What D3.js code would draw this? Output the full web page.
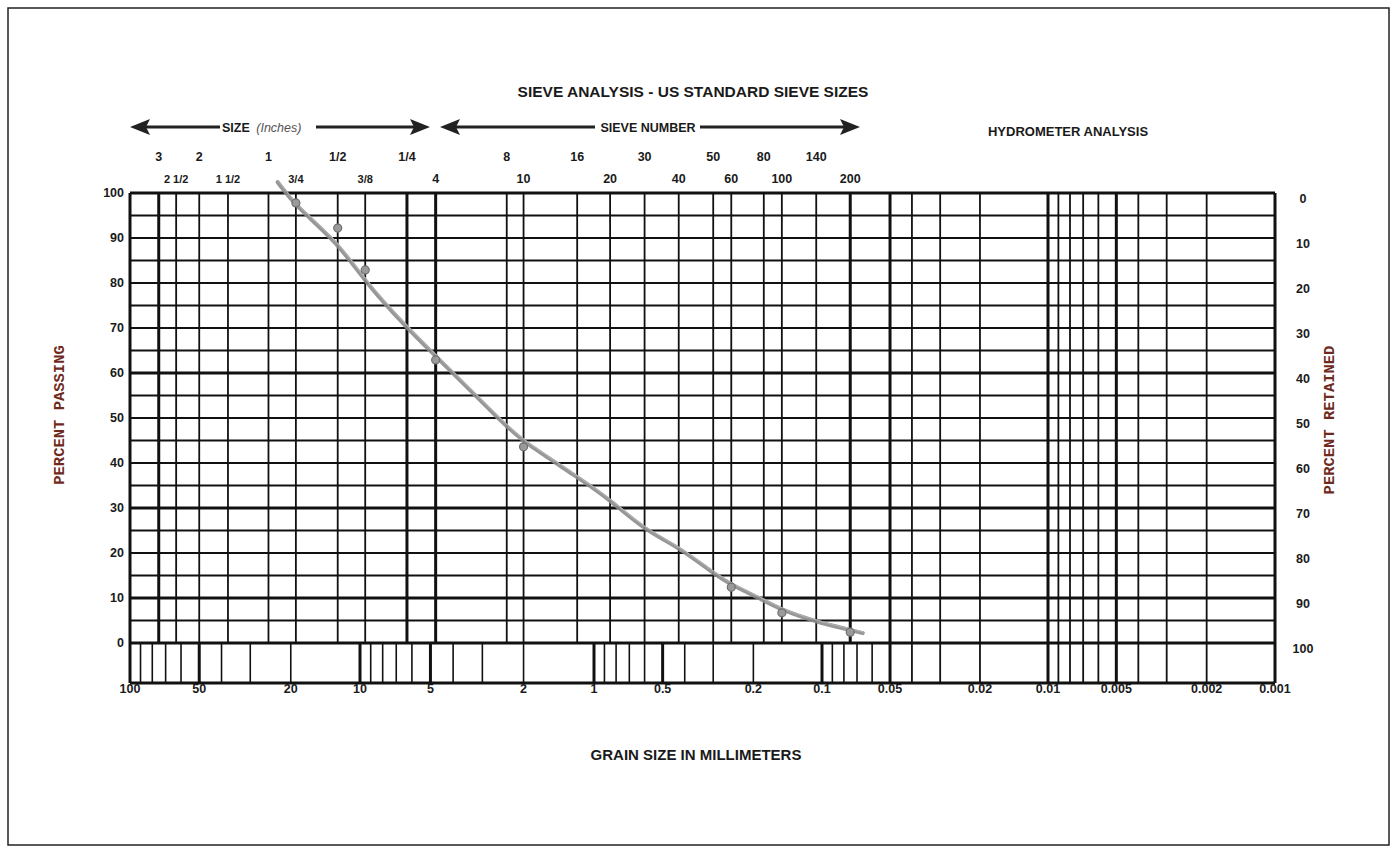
<!DOCTYPE html>
<html>
<head>
<meta charset="utf-8">
<script src="https://cdn.jsdelivr.net/npm/d3@7"></script>
<style>
  body { margin: 0; background: #fff; }
  svg text { font-family: "Liberation Sans", Arial, sans-serif; font-weight: bold; fill: #1a1a1a; }
</style>
</head>
<body>
<svg id="chart" width="1394" height="848"></svg>
<script>
// sieve openings in mm (vertical grid lines of the sieve part)
const sieveSizes = [75, 63, 50, 37.5, 25, 19, 12.5, 9.5, 6.3, 4.75, 2.36, 2, 1.18, 0.85, 0.6, 0.425, 0.3, 0.25, 0.18, 0.15, 0.106, 0.075];
const heavySieves = [75, 6.3, 4.75, 0.075];
// hydrometer part lines (run through the lower strip too)
const hydroLines = [0.05, 0.04, 0.03, 0.02, 0.01, 0.009, 0.008, 0.007, 0.006, 0.005, 0.004, 0.003, 0.002];
const heavyHydro = [0.05, 0.01, 0.005];
// log ticks in the strip under the grid
const stripTicks = [90, 80, 70, 60, 50, 40, 30, 20, 10, 9, 8, 7, 6, 5, 4, 3, 2, 1, 0.9, 0.8, 0.7, 0.6, 0.5, 0.4, 0.3, 0.2, 0.1, 0.09, 0.08, 0.07, 0.06];
const heavyStrip = [50, 10, 5, 1, 0.5, 0.1];
const mmLabels = ["100", "50", "20", "10", "5", "2", "1", "0.5", "0.2", "0.1", "0.05", "0.02", "0.01", "0.005", "0.002", "0.001"];
const topRow1 = [["3", 75], ["2", 50], ["1", 25], ["1/2", 12.5], ["1/4", 6.3], ["8", 2.36], ["16", 1.18], ["30", 0.6], ["50", 0.3], ["80", 0.18], ["140", 0.106]];
const topRow2 = [["2 1/2", 63], ["1 1/2", 37.5], ["3/4", 19], ["3/8", 9.5], ["4", 4.75], ["10", 2], ["20", 0.85], ["40", 0.425], ["60", 0.25], ["100", 0.15], ["200", 0.075]];
const pctTicks = d3.range(0, 101, 10);
const heavyPct = [0, 10, 30, 60, 100];

// the test results (points) and the hand drawn curve
const pointSizes = [19, 12.5, 9.5, 4.75, 2, 0.25, 0.15, 0.075];
const pointPassing = [97.8, 92.2, 82.9, 62.9, 43.6, 12.4, 6.7, 2.4];
const curveSizes = [22.8, 19, 12.5, 9.5, 6.3, 4.75, 2.36, 2, 1.18, 0.85, 0.6, 0.425, 0.3, 0.25, 0.18, 0.15, 0.106, 0.075, 0.066];
const curvePassing = [102.4, 97, 89, 80.2, 70, 63.8, 48, 44.7, 36.9, 31.8, 25.1, 21.3, 15.5, 12.9, 9.5, 7.3, 4.7, 2.9, 2.2];

const svg = d3.select("#chart");
const gLeft = 130, gRight = 1275, gTop = 193, gZero = 643, stripBottom = 683;

// the printed chart is not perfectly even, so each decade gets its own stretch
const x = d3.scaleLog().domain([100, 10, 1, 0.1, 0.01, 0.001]).range([gLeft, 360, 594, 822, 1048, gRight]);
const y = d3.scaleLinear().domain([0, 100]).range([gZero, gTop]);

// page frame
svg.append("rect").attr("x", 8).attr("y", 8).attr("width", 1381).attr("height", 837)
  .attr("fill", "none").attr("stroke", "#222").attr("stroke-width", 1.5);

const grid = svg.append("g").attr("stroke", "#111").attr("fill", "none");

// horizontal lines every 5 %
grid.selectAll(".hline").data(d3.range(0, 101, 5)).join("line")
  .attr("x1", gLeft).attr("x2", gRight)
  .attr("y1", d => y(d)).attr("y2", d => y(d))
  .attr("stroke-width", d => heavyPct.includes(d) ? 3 : 1.8);

// sieve lines
grid.selectAll(".sline").data(sieveSizes).join("line")
  .attr("x1", d => x(d)).attr("x2", d => x(d))
  .attr("y1", y(100)).attr("y2", y(0))
  .attr("stroke-width", d => heavySieves.includes(d) ? 3 : 1.8);

// strip ticks
grid.selectAll(".tick").data(stripTicks).join("line")
  .attr("x1", d => x(d)).attr("x2", d => x(d))
  .attr("y1", y(0)).attr("y2", stripBottom)
  .attr("stroke-width", d => heavyStrip.includes(d) ? 3 : 1.6);

// hydrometer lines
grid.selectAll(".hyd").data(hydroLines).join("line")
  .attr("x1", d => x(d)).attr("x2", d => x(d))
  .attr("y1", y(100)).attr("y2", stripBottom)
  .attr("stroke-width", d => heavyHydro.includes(d) ? 3 : 1.8);

// strip bottom and outer border
grid.append("line").attr("x1", gLeft).attr("x2", gRight).attr("y1", stripBottom).attr("y2", stripBottom).attr("stroke-width", 3);
grid.append("line").attr("x1", gLeft).attr("x2", gLeft).attr("y1", y(100)).attr("y2", stripBottom).attr("stroke-width", 3);
grid.append("line").attr("x1", gRight).attr("x2", gRight).attr("y1", y(100)).attr("y2", stripBottom).attr("stroke-width", 3);

// left and right axes
svg.append("g").selectAll("text").data(pctTicks).join("text")
  .attr("x", 124).attr("y", d => y(d)).attr("dy", "0.35em")
  .attr("text-anchor", "end").attr("font-size", 12.5).text(d => d);
svg.append("g").selectAll("text").data(pctTicks).join("text")
  .attr("x", 1303).attr("y", d => y(d) + 6).attr("dy", "0.35em")
  .attr("text-anchor", "middle").attr("font-size", 12.5).text(d => 100 - d);

// mm labels under the strip
svg.append("g").selectAll("text").data(mmLabels).join("text")
  .attr("x", d => x(+d)).attr("y", 693)
  .attr("text-anchor", "middle").attr("font-size", 12.5).text(d => d);

// sieve labels on top
svg.append("g").selectAll("text").data(topRow1).join("text")
  .attr("x", d => x(d[1])).attr("y", 161)
  .attr("text-anchor", "middle").attr("font-size", 12.5).text(d => d[0]);
svg.append("g").selectAll("text").data(topRow2).join("text")
  .attr("x", d => x(d[1])).attr("y", 183)
  .attr("text-anchor", "middle").attr("font-size", d => d[0].includes("/") ? 11 : 12.5).text(d => d[0]);

// title and headings
svg.append("text").attr("x", 693).attr("y", 97).attr("text-anchor", "middle")
  .attr("font-size", 15.5).text("SIEVE ANALYSIS - US STANDARD SIEVE SIZES");
svg.append("text").attr("x", 1068).attr("y", 136).attr("text-anchor", "middle")
  .attr("font-size", 13).text("HYDROMETER ANALYSIS");
svg.append("text").attr("x", 696).attr("y", 760).attr("text-anchor", "middle")
  .attr("font-size", 15).text("GRAIN SIZE IN MILLIMETERS");

// arrows
function arrow(x1, x2, gapFrom, gapTo) {
  const g = svg.append("g");
  const ay = 127;
  g.append("line").attr("x1", x1 + 14).attr("x2", gapFrom).attr("y1", ay).attr("y2", ay).attr("stroke", "#222").attr("stroke-width", 3);
  g.append("line").attr("x1", gapTo).attr("x2", x2 - 14).attr("y1", ay).attr("y2", ay).attr("stroke", "#222").attr("stroke-width", 3);
  g.append("path").attr("d", `M${x1},${ay} L${x1 + 20},${ay - 8} L${x1 + 16},${ay} L${x1 + 20},${ay + 8} Z`).attr("fill", "#222");
  g.append("path").attr("d", `M${x2},${ay} L${x2 - 20},${ay - 8} L${x2 - 16},${ay} L${x2 - 20},${ay + 8} Z`).attr("fill", "#222");
}
arrow(130, 430, 220, 316);
arrow(440, 860, 595, 700);
const sizeLabel = svg.append("text").attr("x", 222).attr("y", 132).attr("font-size", 12.5);
sizeLabel.append("tspan").text("SIZE ");
sizeLabel.append("tspan").attr("font-style", "italic").attr("font-weight", "normal").attr("fill", "#555").attr("dx", 3).text("(Inches)");
svg.append("text").attr("x", 648).attr("y", 132).attr("text-anchor", "middle").attr("font-size", 12.5).text("SIEVE NUMBER");

// axis titles
svg.append("text").attr("transform", "translate(64,415) rotate(-90)")
  .attr("text-anchor", "middle").attr("font-size", 15.5)
  .style("font-family", "'Liberation Mono', 'DejaVu Sans Mono', monospace").style("fill", "#6e2a1c")
  .text("PERCENT PASSING");
svg.append("text").attr("transform", "translate(1334,420) rotate(-90)")
  .attr("text-anchor", "middle").attr("font-size", 15.5)
  .style("font-family", "'Liberation Mono', 'DejaVu Sans Mono', monospace").style("fill", "#6e2a1c")
  .text("PERCENT RETAINED");

// gradation curve
const curve = curveSizes.map((s, i) => [s, curvePassing[i]]);
const line = d3.line().x(d => x(d[0])).y(d => y(d[1])).curve(d3.curveBasis);
svg.append("path").datum(curve).attr("d", line)
  .attr("fill", "none").attr("stroke", "#8c8c8c").attr("stroke-width", 4).attr("stroke-linecap", "round").attr("opacity", 0.9);
svg.append("path").datum(curve).attr("d", line)
  .attr("fill", "none").attr("stroke", "#b0b0b0").attr("stroke-width", 1.2).attr("transform", "translate(1,-1)");

svg.append("g").selectAll("circle").data(pointSizes).join("circle")
  .attr("cx", d => x(d)).attr("cy", (d, i) => y(pointPassing[i]))
  .attr("r", 4).attr("fill", "#9a9a9a").attr("stroke", "#6f6f6f").attr("stroke-width", 1.2);
</script>
</body>
</html>
